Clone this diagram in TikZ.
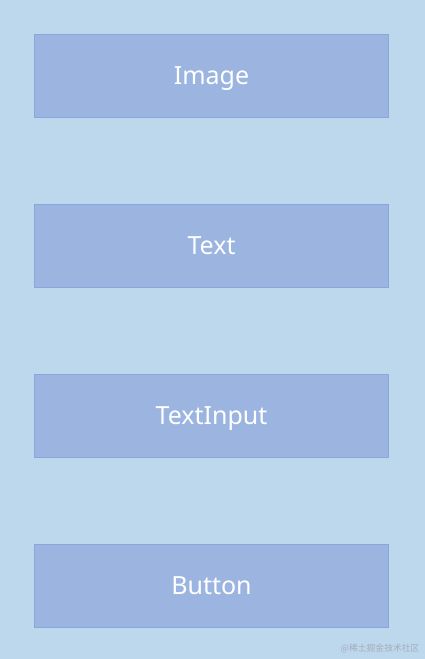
\documentclass[tikz,border=0pt]{standalone}
\usepackage{fontspec}
\setmainfont{Noto Sans}
\newfontfamily\cjk{Noto Sans CJK SC}
\definecolor{pagebg}{HTML}{BDD7ED}
\definecolor{boxfill}{HTML}{9BB4E0}
\definecolor{boxline}{HTML}{8BA6DC}
\definecolor{markgray}{HTML}{A3AEBD}

\begin{document}
\begin{tikzpicture}[x=1pt, y=-1pt,
		widget/.style={draw=boxline, fill=boxfill, line width=1.2pt, minimum width=354pt, minimum height=83pt, inner sep=0pt, text=white, text height=18pt, text depth=0.5pt, font=\fontsize{25}{29}\selectfont}]
			%%%%% START %%%%%
			
			\fill[pagebg] (0, 0) rectangle (425, 659);
			\useasboundingbox (0, 0) rectangle (425, 659);
			
			\node[widget] (image) at (211.5, 76) {Image};
			\node[widget] (text) at (211.5, 246) {Text};
			\node[widget] (textinput) at (211.5, 416) {TextInput};
			\node[widget] (button) at (211.5, 586) {Button};
			
			\node[anchor=east, text=markgray, font=\cjk\fontsize{8.8}{10}\selectfont] (mark) at (423, 649) {@稀土掘金技术社区};
			
			%%%%% END %%%%%
		\end{tikzpicture}
\end{document}
